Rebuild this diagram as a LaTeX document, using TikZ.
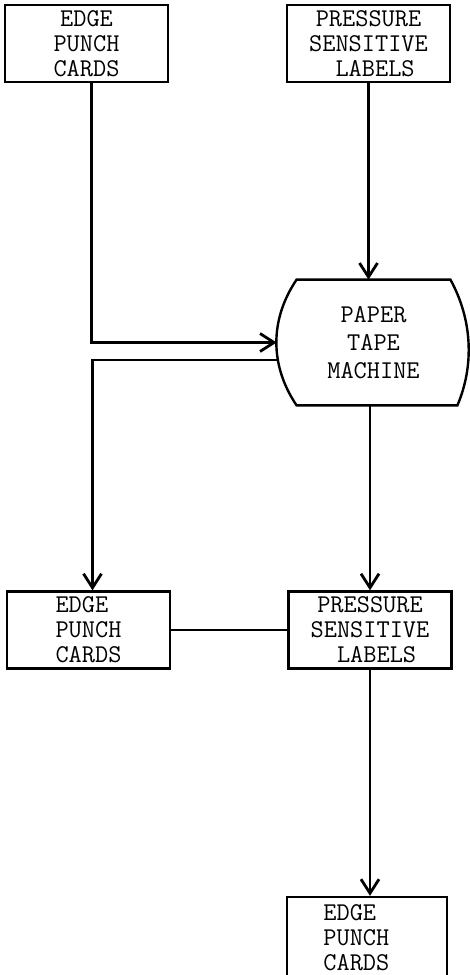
\documentclass[tikz,border=0pt]{standalone}
\usetikzlibrary{arrows.meta}

\begin{document}
\begin{tikzpicture}[x=0.5pt,y=-0.5pt,
   box/.style={draw, line width=1.2pt, minimum width=81.5pt, minimum height=38.5pt,
      inner sep=0pt, align=center, font=\ttfamily\fontsize{12.8}{12.5}\selectfont},
   flow/.style={line width=1.4pt, -{Straight Barb[length=7pt,width=9pt]}},
   link/.style={line width=1.4pt}]
   \clip (0,0) rectangle (470,975);
   \node[box] (edgetop) at (86.5,43.5) {EDGE\\PUNCH\\CARDS};
   \node[box] (labeltop) at (368.5,43.5) {PRESSURE\\SENSITIVE\\\ LABELS};
   \node[minimum width=96.5pt, minimum height=62.5pt, inner sep=0pt, align=center,
      font=\ttfamily\fontsize{12.8}{14}\selectfont] (machine) at (373.5,342.5) {PAPER\\TAPE\\MACHINE};
   \draw[line width=1.2pt] ([xshift=10pt]machine.north west) -- ([xshift=-10pt]machine.north east)
      .. controls +(22,40) and +(17,-40) .. ([xshift=-6.5pt]machine.south east)
      -- ([xshift=10pt]machine.south west)
      .. controls +(-27,-40) and +(-27,40) .. ([xshift=10pt]machine.north west) -- cycle;
   \node[box, align=left] (edgemid) at (88.5,630) {EDGE\\PUNCH\\CARDS};
   \node[box] (labelmid) at (370,630) {PRESSURE\\SENSITIVE\\\ LABELS};
   \node[box, minimum width=80pt, minimum height=40pt] (edgelow) at (367,937) {};
   \node[align=left, inner sep=0pt, font=\ttfamily\fontsize{12.8}{12.5}\selectfont,
      anchor=west] (edgelowtext) at (323,938) {EDGE\\PUNCH\\CARDS};
   \coordinate (tapeout) at (278,360);
   \draw[flow] ([xshift=2.5pt]edgetop.south) |- (machine.west);
   \draw[flow] (labeltop.south) -- (labeltop.south |- machine.north);
   \draw[flow] (tapeout) -| ([xshift=2pt]edgemid.north);
   \draw[flow] (machine.south -| labelmid.north) -- (labelmid.north);
   \draw[link] (edgemid) -- (labelmid);
   \draw[flow] (labelmid.south) -- (labelmid.south |- edgelow.north);
\end{tikzpicture}
\end{document}
